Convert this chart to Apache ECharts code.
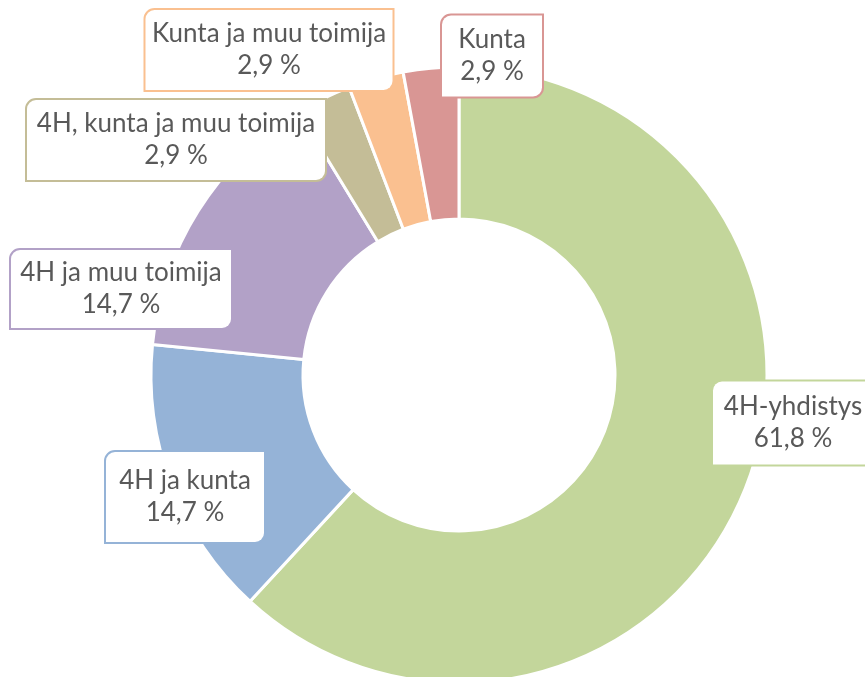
<!DOCTYPE html>
<html>
<head>
<meta charset="utf-8">
<script src="https://cdn.jsdelivr.net/npm/echarts@6/dist/echarts.min.js"></script>
<style>
  html, body { margin: 0; padding: 0; background: #fff; }
  #chart { width: 865px; height: 677px; }
</style>
</head>
<body>
<div id="chart"></div>
<script>
// osuudet (%) kuvasta luettuna
const categories = ['4H-yhdistys', '4H ja kunta', '4H ja muu toimija', '4H, kunta ja muu toimija', 'Kunta ja muu toimija', 'Kunta'];
const shares = [61.8, 14.7, 14.7, 2.9, 2.9, 2.9];
const colors = ['#C3D69B', '#95B3D7', '#B2A1C7', '#C4BD97', '#FAC090', '#D99694'];

// label box centres and sizes (outer box, px)
const labelPos = [[793, 423], [185, 497], [121, 289], [176, 140], [269, 50], [492, 56]];
const boxSize = [[160, 83], [158, 90], [220, 78], [298, 80], [247, 80], [100, 81]];

const chart = echarts.init(document.getElementById('chart'));

const option = {
  animation: false,
  series: [
    {
      type: 'pie',
      center: [459, 375],
      radius: [156, 308],
      startAngle: 90,
      clockwise: true,
      avoidLabelOverlap: false,
      itemStyle: {
        borderColor: '#fff',
        borderWidth: 3,
      },
      labelLine: { show: false },
      label: {
        show: true,
        position: 'outside',
        fontFamily: 'Lato',
        fontSize: 26,
        lineHeight: 32,
        color: '#595959',
        align: 'center',
        backgroundColor: '#fff',
        borderWidth: 2,
        borderRadius: [9, 0, 9, 0],
        padding: [0, 0],
        formatter: p => p.name + '\n' + p.value.toFixed(1).replace('.', ',') + ' %',
      },
      labelLayout: p => ({
        x: labelPos[p.dataIndex][0],
        y: labelPos[p.dataIndex][1],
        align: 'center',
        verticalAlign: 'middle',
      }),
      data: categories.map((name, i) => ({
        name: name,
        value: shares[i],
        itemStyle: { color: colors[i] },
        label: {
          borderColor: colors[i],
          width: boxSize[i][0],
          height: boxSize[i][1],
        },
      })),
    },
  ],
};

chart.setOption(option);
</script>
</body>
</html>
